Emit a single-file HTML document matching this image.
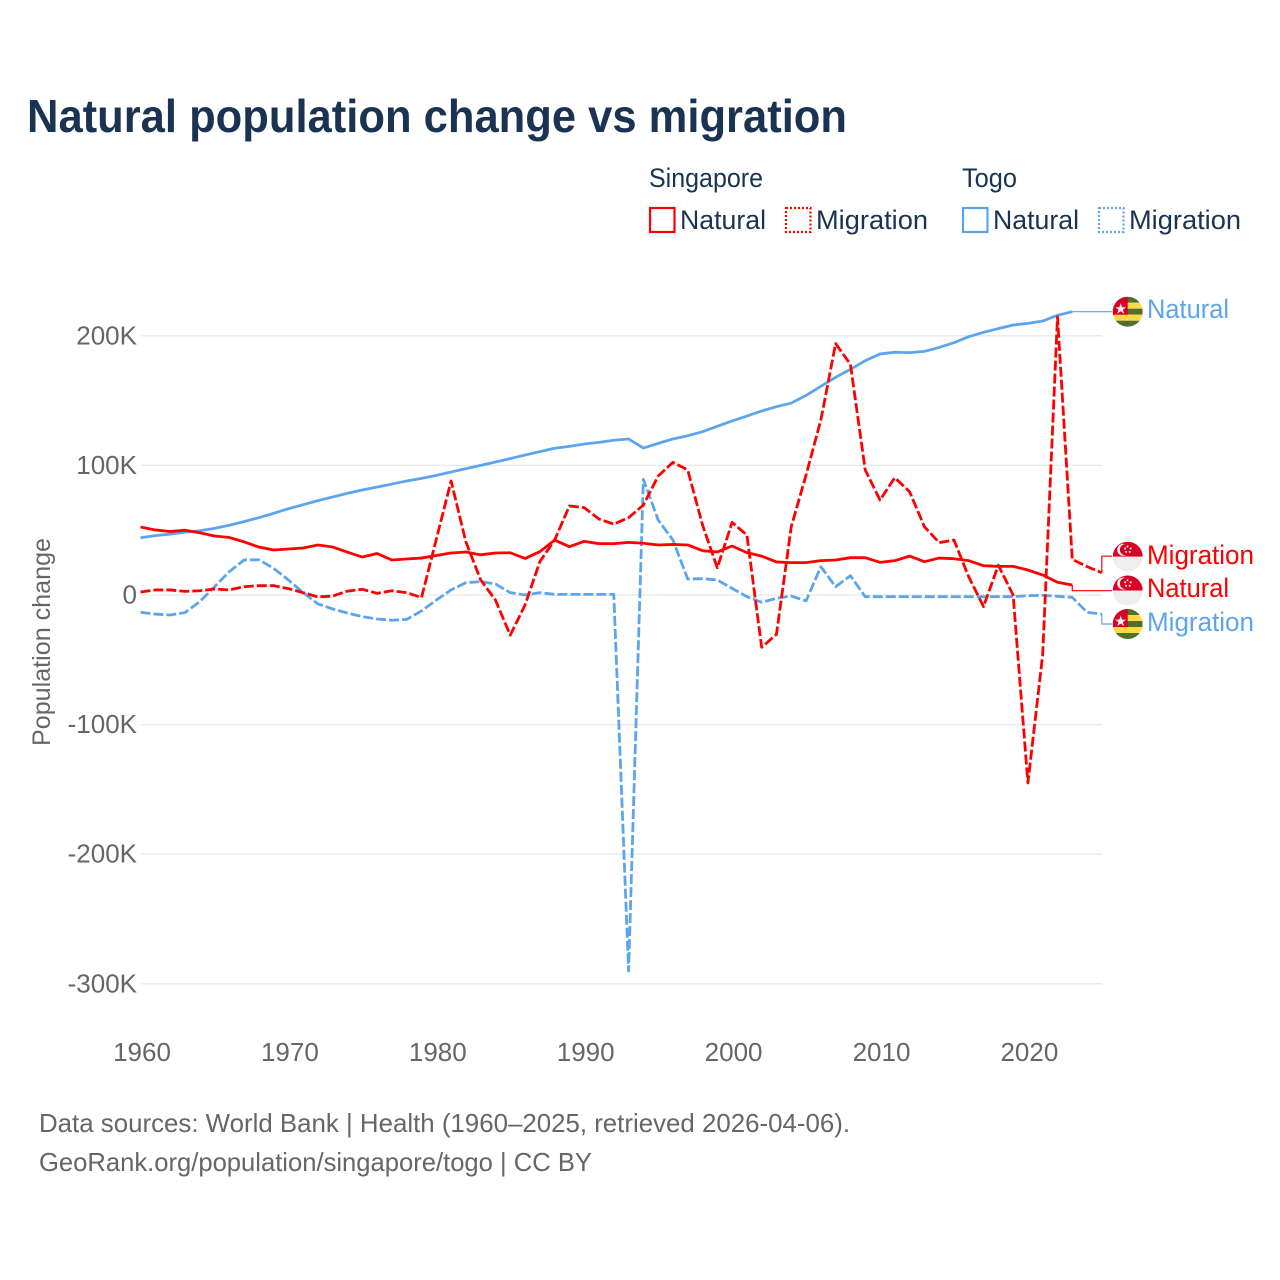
<!DOCTYPE html>
<html lang="en">
<head>
<meta charset="utf-8">
<title>Natural population change vs migration</title>
<style>
html,body{margin:0;padding:0;background:#fff;}
svg{display:block;font-family:"Liberation Sans",sans-serif;}
</style>
</head>
<body>
<svg id="chart" width="1280" height="1280" viewBox="0 0 1280 1280">
  <rect width="1280" height="1280" fill="#fff"/>
  <text x="27" y="132" font-size="46" font-weight="700" fill="#1a3353" textLength="820" lengthAdjust="spacingAndGlyphs">Natural population change vs migration</text>

  <g font-size="27" fill="#1a3353">
    <text x="649" y="187" textLength="114" lengthAdjust="spacingAndGlyphs">Singapore</text>
    <rect x="650" y="208" width="24.5" height="24" fill="none" stroke="#ff0000" stroke-width="2.2"/>
    <text x="680" y="229" textLength="86" lengthAdjust="spacingAndGlyphs">Natural</text>
    <rect x="786" y="208" width="24.5" height="24" fill="none" stroke="#ff0000" stroke-width="2.2" stroke-dasharray="2 2"/>
    <text x="816" y="229" textLength="112" lengthAdjust="spacingAndGlyphs">Migration</text>
    <text x="962" y="187" textLength="55" lengthAdjust="spacingAndGlyphs">Togo</text>
    <rect x="963" y="208" width="24.5" height="24" fill="none" stroke="#5ca5ee" stroke-width="2.2"/>
    <text x="993" y="229" textLength="86" lengthAdjust="spacingAndGlyphs">Natural</text>
    <rect x="1099" y="208" width="24.5" height="24" fill="none" stroke="#5ca5ee" stroke-width="2.2" stroke-dasharray="2 2"/>
    <text x="1129" y="229" textLength="112" lengthAdjust="spacingAndGlyphs">Migration</text>
  </g>

  <g id="grid"></g>
  <g id="yticks"></g>
  <g id="xticks"></g>
  <text transform="translate(50 642) rotate(-90)" text-anchor="middle" font-size="25" fill="#666666" textLength="208" lengthAdjust="spacingAndGlyphs">Population change</text>
  <g id="series"></g>
  <g id="connectors"></g>

  <defs>
    <clipPath id="flag-clip"><circle cx="0" cy="0" r="15"/></clipPath>
    <g id="flag-togo">
      <g clip-path="url(#flag-clip)">
        <rect x="-15" y="-15" width="30" height="6" fill="#4f6f2a"/>
        <rect x="-15" y="-9" width="30" height="6" fill="#ffda44"/>
        <rect x="-15" y="-3" width="30" height="6" fill="#4f6f2a"/>
        <rect x="-15" y="3" width="30" height="6" fill="#ffda44"/>
        <rect x="-15" y="9" width="30" height="6" fill="#4f6f2a"/>
        <rect x="-15" y="-15" width="15" height="18" fill="#d80027"/>
        <polygon points="-7,-8.5 -5.6,-4.4 -1.5,-4.4 -4.8,-1.9 -3.6,2 -7,-0.4 -10.4,2 -9.2,-1.9 -12.5,-4.4 -8.4,-4.4" fill="#f0f0f0"/>
      </g>
    </g>
    <g id="flag-singapore">
      <g clip-path="url(#flag-clip)">
        <rect x="-15" y="-15" width="30" height="15" fill="#d80027"/>
        <rect x="-15" y="0" width="30" height="15" fill="#eeeeee"/>
        <circle cx="-4.5" cy="-7" r="6" fill="#f0f0f0"/>
        <circle cx="-2.2" cy="-7" r="5.6" fill="#d80027"/>
        <circle cx="-0.3" cy="-10.2" r="1" fill="#f0f0f0"/>
        <circle cx="3" cy="-8.2" r="1" fill="#f0f0f0"/>
        <circle cx="2" cy="-4.8" r="1" fill="#f0f0f0"/>
        <circle cx="-1.6" cy="-4.8" r="1" fill="#f0f0f0"/>
        <circle cx="-2.6" cy="-8.2" r="1" fill="#f0f0f0"/>
      </g>
    </g>
  </defs>

  <g font-size="27">
    <use href="#flag-togo" x="1127.7" y="311.7"/>
    <text x="1147" y="318" fill="#5ca5ee" textLength="82" lengthAdjust="spacingAndGlyphs">Natural</text>
    <use href="#flag-singapore" x="1127.7" y="556.7"/>
    <text x="1147" y="564" fill="#ff0000" textLength="107" lengthAdjust="spacingAndGlyphs">Migration</text>
    <use href="#flag-singapore" x="1127.7" y="590.5"/>
    <text x="1147" y="597" fill="#ff0000" textLength="82" lengthAdjust="spacingAndGlyphs">Natural</text>
    <use href="#flag-togo" x="1127.7" y="624"/>
    <text x="1147" y="631" fill="#5ca5ee" textLength="107" lengthAdjust="spacingAndGlyphs">Migration</text>
  </g>

  <g font-size="26" fill="#666666">
    <text x="39" y="1132" textLength="811" lengthAdjust="spacingAndGlyphs">Data sources: World Bank | Health (1960–2025, retrieved 2026-04-06).</text>
    <text x="39" y="1171" textLength="553" lengthAdjust="spacingAndGlyphs">GeoRank.org/population/singapore/togo | CC BY</text>
  </g>
</svg>
<script>
const startYear = 1960;
const xTickYears = [1960, 1970, 1980, 1990, 2000, 2010, 2020];
const yTickValues = [200, 100, 0, -100, -200, -300];
const yTickLabels = ["200K", "100K", "0", "-100K", "-200K", "-300K"];
const singaporeNatural = [52.5,50.2,49,50,48,45.5,44.4,41,37,34.7,35.5,36.3,38.6,37,33,29.3,32,27,27.8,28.5,30.5,32.4,33.2,31,32.4,32.6,28.2,33.4,42.4,37.3,41.4,39.6,39.6,40.6,39.9,38.6,39,38.6,34.2,33.2,37.8,32.7,30,25.5,25,25,26.5,27,28.8,28.8,25.2,26.5,30,25.7,28.5,28,26.5,22.6,22.1,22.1,19.3,15.4,9.8,7.7];
const singaporeMigration = [2.3,3.9,3.9,2.8,3.3,4.6,3.9,6.4,7.2,7.2,4.9,1.8,-1.5,-0.8,3,4.4,1.3,3.3,1.8,-2,43,88,41,11.6,-3.9,-31,-7.7,25.7,42.4,68.7,67.4,58.6,54.7,59.7,69.4,91.8,102.4,96.5,54,21,56,46.3,-40.4,-30.3,52.7,92.6,135,194,178,96.5,73.3,90.5,79.7,52.7,40.4,42.4,14,-9,23,0,-145,-46,214.7,27.5,21.9,17.2];
const togoNatural = [44.2,45.8,47,48.4,49.6,51.4,53.8,56.6,59.7,63,66.6,69.7,72.8,75.6,78.5,81,83.3,85.6,88,90,92.3,94.9,97.5,100,102.6,105.2,108,110.6,113.2,114.7,116.5,117.8,119.4,120.4,113.4,117,120.4,122.9,126,130.2,134.3,138.1,142,145.3,148.1,154,161,168,174.1,180.8,186,187.3,187,188,191,194.7,199.3,202.7,205.5,208.3,209.6,211.4,215.8,218.6];
const togoMigration = [-13.4,-14.7,-15.4,-13.6,-5.2,6.4,18,27,27.2,20.6,11.6,1.8,-6.9,-10.8,-14,-16.7,-18.5,-19.5,-18.8,-12.3,-3.9,3.9,9.5,10.3,8.5,1.8,0,1.8,0.5,0.5,0.5,0.5,0.5,-290,89.3,57.9,42.4,12.3,12.6,11.6,5.1,-1.3,-5.6,-2.6,-0.8,-4.6,21.8,6.4,14.9,-1.3,-1.3,-1.3,-1.3,-1.3,-1.3,-1.3,-1.3,-1.3,-1.3,-1.3,-0.5,-0.3,-1,-1.8,-13.4,-14.7];

const NS = "http://www.w3.org/2000/svg";
const RED = "#ff0000";
const BLUE = "#5ca5ee";
const X0 = 140.5, X_PER_YEAR = 14.79;
const Y0 = 595, Y_PER_K = 1.296;
function xScale(year) { return X0 + (year - startYear) * X_PER_YEAR; }
function yScale(v) { return Y0 - v * Y_PER_K; }

const gridLayer = document.getElementById("grid");
const yLayer = document.getElementById("yticks");
yTickValues.forEach(function (v, i) {
  const line = document.createElementNS(NS, "line");
  line.setAttribute("x1", 141);
  line.setAttribute("x2", 1102);
  line.setAttribute("y1", yScale(v));
  line.setAttribute("y2", yScale(v));
  line.setAttribute("stroke", "#e8e8e8");
  line.setAttribute("stroke-width", 1.3);
  
  
  gridLayer.appendChild(line);
  const t = document.createElementNS(NS, "text");
  t.setAttribute("x", 137);
  t.setAttribute("y", yScale(v) + 8.5);
  t.setAttribute("text-anchor", "end");
  t.setAttribute("font-size", 26);
  t.setAttribute("fill", "#666666");
  t.textContent = yTickLabels[i];
  
  
  yLayer.appendChild(t);
});

const xLayer = document.getElementById("xticks");
xTickYears.forEach(function (year) {
  const t = document.createElementNS(NS, "text");
  t.setAttribute("x", xScale(year) + 1.5);
  t.setAttribute("y", 1061);
  t.setAttribute("text-anchor", "middle");
  t.setAttribute("font-size", 26);
  t.setAttribute("fill", "#666666");
  t.textContent = String(year);
  
  
  xLayer.appendChild(t);
});

function linePath(values) {
  return values.map(function (v, i) {
    return (i ? "L" : "M") + xScale(startYear + i).toFixed(2) + " " + yScale(v).toFixed(2);
  }).join(" ");
}

const seriesLayer = document.getElementById("series");
function drawSeries(values, color, dashed, name) {
  const p = document.createElementNS(NS, "path");
  p.setAttribute("d", linePath(values));
  p.setAttribute("fill", "none");
  p.setAttribute("stroke", color);
  p.setAttribute("stroke-width", 2.8);
  p.setAttribute("stroke-linejoin", "round");
  if (dashed) p.setAttribute("stroke-dasharray", "10 3");
  
  
  seriesLayer.appendChild(p);
}
drawSeries(togoNatural, BLUE, false, "line-togo-natural");
drawSeries(togoMigration, BLUE, true, "line-togo-migration");
drawSeries(singaporeMigration, RED, true, "line-singapore-migration");
drawSeries(singaporeNatural, RED, false, "line-singapore-natural");

const connectorLayer = document.getElementById("connectors");
function drawConnector(values, labelY, color, name) {
  const last = values.length - 1;
  const ex = xScale(startYear + last);
  const ey = yScale(values[last]);
  const c = document.createElementNS(NS, "path");
  c.setAttribute("d", "M" + ex + " " + ey + " L" + ex + " " + labelY + " L1112 " + labelY);
  c.setAttribute("fill", "none");
  c.setAttribute("stroke", color);
  c.setAttribute("stroke-width", 1.2);
  
  
  connectorLayer.appendChild(c);
}
drawConnector(togoNatural, 311.7, BLUE, "connector-togo-natural");
drawConnector(singaporeMigration, 556.2, RED, "connector-singapore-migration");
drawConnector(singaporeNatural, 590.7, RED, "connector-singapore-natural");
drawConnector(togoMigration, 624, BLUE, "connector-togo-migration");
</script>
</body>
</html>
